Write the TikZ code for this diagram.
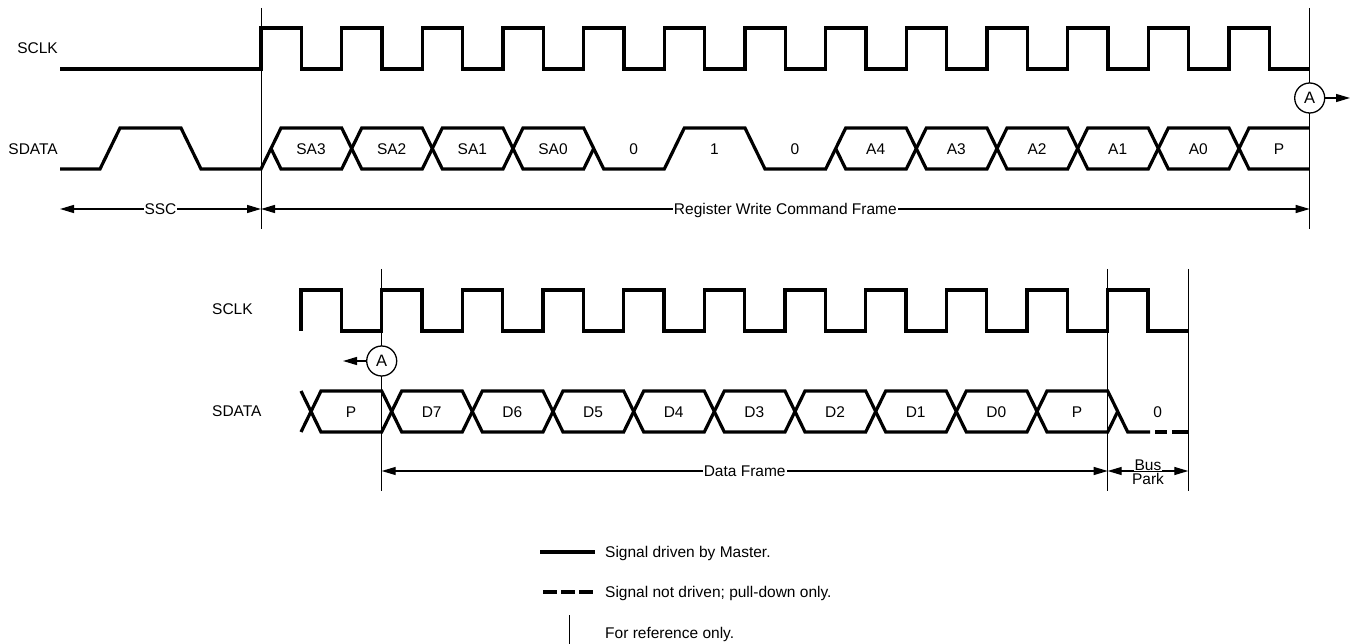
\documentclass[tikz,border=0pt]{standalone}
\usepackage{fontspec}
\setmainfont{Liberation Sans}
\usetikzlibrary{arrows.meta}
\tikzset{
  sig/.style={line width=3.2pt, line join=miter},
  refline/.style={line width=1pt},
  txt/.style={inner sep=0pt, text height=11.1pt, text depth=0pt, font=\fontsize{15.5}{18}\selectfont},
  wtxt/.style={txt, fill=white, inner xsep=1pt},
  dimarr/.style={line width=1.3pt, {Triangle[length=14pt,width=8pt]}-{Triangle[length=14pt,width=8pt]}},
  onearr/.style={line width=1.3pt, -{Triangle[length=14pt,width=8pt]}},
  marker/.style={circle, draw, line width=1.3pt, fill=white, minimum size=30pt, inner sep=0pt, font=\fontsize{16.5}{18}\selectfont},
}
\begin{document}
\begin{tikzpicture}[x=1pt,y=-1pt]
\useasboundingbox (0,0) rectangle (1355,644);
% ---------------- top section ----------------
\node[txt, anchor=east] (sclkA) at (58,48) {SCLK};
\node[txt, anchor=east] (sdataA) at (58,149) {SDATA};
% reference lines
\coordinate (rA1) at (261,8);   \coordinate (rA1b) at (261,229);
\coordinate (rA2) at (1309.7,8); \coordinate (rA2b) at (1309.7,229);
\draw[refline] (rA1) -- (rA1b);
\draw[refline] (rA2) -- (rA2b);
% clock
\draw[sig] (60,69) foreach \k in {0,...,12} {-- ({261+\k*80.6667},69) -- ({261+\k*80.6667},28) -- ({301.333+\k*80.6667},28) -- ({301.333+\k*80.6667},69)} -- (1309.7,69);
% data
\draw[sig] (60,169)--(100,169)--(120,128)--(181,128)--(201,169)--(261,169)--(281,128)--(341.7,128)--(361.7,169)--(422.3,169)--(442.3,128)--(503,128)--(523,169)--(583.7,169)--(593.7,148.5);
\draw[sig] (271,148.5)--(281,169)--(341.7,169)--(361.7,128)--(422.3,128)--(442.3,169)--(503,169)--(523,128)--(583.7,128)--(603.7,169)--(664.3,169)--(684.3,128)--(745,128)--(765,169)--(825.7,169)--(845.7,128)--(906.3,128)--(926.3,169)--(987,169)--(1007,128)--(1067.7,128)--(1087.7,169)--(1148.3,169)--(1168.3,128)--(1229,128)--(1249,169)--(1309.7,169);
\draw[sig] (835.7,148.5)--(845.7,169)--(906.3,169)--(926.3,128)--(987,128)--(1007,169)--(1067.7,169)--(1087.7,128)--(1148.3,128)--(1168.3,169)--(1229,169)--(1249,128)--(1309.7,128);
\foreach \k/\t in {0/SA3,1/SA2,2/SA1,3/SA0,4/0,5/1,6/0,7/A4,8/A3,9/A2,10/A1,11/A0,12/P}
  \node[txt] (ta\k) at ({311+\k*80.6667},148.5) {\t};
% marker A
\node[marker] (mA) at (1309.7,98) {A};
\coordinate (mAend) at (1350,98);
\draw[onearr] (mA.east) -- (mAend);
% dimension arrows
\coordinate (sscL) at (60,209); \coordinate (sscR) at (261,209);
\coordinate (frR) at (1309.7,209);
\draw[dimarr] (sscL) -- node[wtxt] (ssc) {SSC} (sscR);
\draw[dimarr] (sscR) -- node[wtxt] (rwcf) {Register Write Command Frame} (frR);
% ---------------- bottom section ----------------
\node[txt, anchor=west] (sclkB) at (212,309) {SCLK};
\node[txt, anchor=west] (sdataB) at (212,411) {SDATA};
\coordinate (rB1) at (381.7,269); \coordinate (rB1b) at (381.7,491);
\coordinate (rB2) at (1107.7,269); \coordinate (rB2b) at (1107.7,491);
\coordinate (rB3) at (1188.3,269); \coordinate (rB3b) at (1188.3,491);
\draw[refline] (rB1) -- (rB1b);
\draw[refline] (rB2) -- (rB2b);
\draw[refline] (rB3) -- (rB3b);
\draw[sig] (301,331) foreach \k in {0,...,10} {-- ({301+\k*80.6667},331) -- ({301+\k*80.6667},290) -- ({341.333+\k*80.6667},290) -- ({341.333+\k*80.6667},331)} -- (1188.3,331);
\draw[sig] (301,391)--(321,432)--(381.7,432)--(401.7,391)--(462.3,391)--(482.3,432)--(543,432)--(563,391)--(623.7,391)--(643.7,432)--(704.3,432)--(724.3,391)--(785,391)--(805,432)--(865.7,432)--(885.7,391)--(946.3,391)--(966.3,432)--(1027,432)--(1047,391)--(1107.7,391)--(1127.7,432)--(1150,432);
\draw[sig] (301,432)--(321,391)--(381.7,391)--(401.7,432)--(462.3,432)--(482.3,391)--(543,391)--(563,432)--(623.7,432)--(643.7,391)--(704.3,391)--(724.3,432)--(785,432)--(805,391)--(865.7,391)--(885.7,432)--(946.3,432)--(966.3,391)--(1027,391)--(1047,432)--(1107.7,432)--(1117.7,411.5);
\draw[sig] (1155,432)--(1167,432);
\draw[sig] (1172,432)--(1188.3,432);
\foreach \k/\t in {0/P,1/D7,2/D6,3/D5,4/D4,5/D3,6/D2,7/D1,8/D0,9/P,10/0}
  \node[txt] (tb\k) at ({351+\k*80.6667},411.5) {\t};
\node[marker] (mB) at (381.7,361) {A};
\coordinate (mBend) at (343,361);
\draw[onearr] (mB.west) -- (mBend);
\coordinate (dfL) at (381.7,471); \coordinate (dfR) at (1107.7,471); \coordinate (bpR) at (1188.3,471);
\draw[dimarr] (dfL) -- node[wtxt] (df) {Data Frame} (dfR);
\draw[dimarr] (dfR) -- (bpR);
\node[wtxt] (bus) at (1148,465) {Bus};
\node[txt] (park) at (1148,478.5) {Park};
% ---------------- legend ----------------
\coordinate (l1a) at (540,552); \coordinate (l1b) at (595,552);
\draw[sig] (l1a) -- (l1b);
\node[txt, anchor=west] (lt1) at (605,552) {Signal driven by Master.};
\coordinate (l2a) at (543,592); \coordinate (l2b) at (593,592);
\draw[sig, dash pattern=on 14pt off 4pt] (l2a) -- (l2b);
\node[txt, anchor=west] (lt2) at (605,592) {Signal not driven; pull-down only.};
\coordinate (l3a) at (569,615); \coordinate (l3b) at (569,644);
\draw[refline] (l3a) -- (l3b);
\node[txt, anchor=west] (lt3) at (605,633) {For reference only.};
\end{tikzpicture}
\end{document}
